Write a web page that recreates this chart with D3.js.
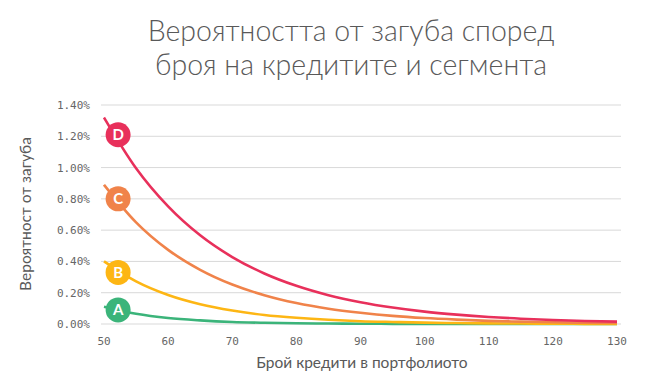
<!DOCTYPE html>
<html>
<head>
<meta charset="utf-8">
<script src="https://cdn.jsdelivr.net/npm/d3@7"></script>
<style>
  body { margin: 0; background: #fff; }
  svg text { fill: #595959; }
</style>
</head>
<body>
<svg id="chart"></svg>
<script>
// loans in portfolio
var xValues = [50, 55, 60, 65, 70, 75, 80, 85, 90, 95, 100, 105, 110, 115, 120, 125, 130];

// loss probability (%), per segment
var segA = [0.110, 0.065, 0.038, 0.023, 0.013, 0.008, 0.005, 0.003, 0.002, 0.001, 0.001, 0.001, 0.000, 0.000, 0.000, 0.000, 0.000];
var segB = [0.400, 0.272, 0.185, 0.126, 0.086, 0.058, 0.040, 0.027, 0.018, 0.013, 0.009, 0.006, 0.004, 0.003, 0.002, 0.001, 0.001];
var segC = [0.890, 0.650, 0.474, 0.346, 0.252, 0.184, 0.134, 0.098, 0.072, 0.052, 0.038, 0.028, 0.020, 0.015, 0.011, 0.008, 0.006];
var segD = [1.320, 0.996, 0.752, 0.567, 0.428, 0.323, 0.244, 0.184, 0.139, 0.105, 0.079, 0.060, 0.045, 0.034, 0.026, 0.019, 0.015];

var segNames = ["A", "B", "C", "D"];
var segColors = ["#3bb47a", "#fdb614", "#f0834a", "#e8305b"];
var markerX = 52.2;
var markerY = [0.09, 0.33, 0.80, 1.21];

var yTicks = [0, 0.2, 0.4, 0.6, 0.8, 1.0, 1.2, 1.4];
var xTicks = [50, 60, 70, 80, 90, 100, 110, 120, 130];

var width = 672, height = 384;
var svg = d3.select("#chart").attr("width", width).attr("height", height);

var x = d3.scaleLinear().domain([50, 130]).range([104, 617]);
var y = d3.scaleLinear().domain([0, 1.4]).range([324, 105]);

// title
svg.append("text")
    .attr("x", 351).attr("y", 41)
    .attr("text-anchor", "middle")
    .style("font-family", "Lato").style("font-weight", 300).style("font-size", "28.5px")
    .text("Вероятността от загуба според");
svg.append("text")
    .attr("x", 351).attr("y", 75)
    .attr("text-anchor", "middle")
    .style("font-family", "Lato").style("font-weight", 300).style("font-size", "28.5px")
    .text("броя на кредитите и сегмента");

// gridlines
svg.append("g").selectAll("line")
    .data(yTicks)
  .enter().append("line")
    .attr("x1", 101).attr("x2", 621)
    .attr("y1", function(d) { return y(d); })
    .attr("y2", function(d) { return y(d); })
    .attr("stroke", "#d9d9d9").attr("stroke-width", 1);

var fmt = d3.format(".2f");
svg.append("g").selectAll("text")
    .data(yTicks)
  .enter().append("text")
    .attr("x", 90)
    .attr("y", function(d) { return y(d) + 4; })
    .attr("text-anchor", "end")
    .style("font-family", "DejaVu Sans Mono").style("font-size", "11px")
    .style("fill", "#666")
    .text(function(d) { return fmt(d) + "%"; });

svg.append("g").selectAll("text")
    .data(xTicks)
  .enter().append("text")
    .attr("x", function(d) { return x(d); })
    .attr("y", 345)
    .attr("text-anchor", "middle")
    .style("font-family", "DejaVu Sans Mono").style("font-size", "11px")
    .style("fill", "#666")
    .text(function(d) { return d; });

// axis titles
svg.append("text")
    .attr("x", 362).attr("y", 368)
    .attr("text-anchor", "middle")
    .style("font-family", "Lato").style("font-size", "15.5px")
    .text("Брой кредити в портфолиото");
svg.append("text")
    .attr("transform", "translate(31,214) rotate(-90)")
    .attr("text-anchor", "middle")
    .style("font-family", "Lato").style("font-size", "15.5px")
    .text("Вероятност от загуба");

// curves
var series = [segA, segB, segC, segD];
var line = d3.line()
    .x(function(d, i) { return x(xValues[i]); })
    .y(function(d) { return y(d); })
    .curve(d3.curveMonotoneX);

svg.append("g").selectAll("path")
    .data(series)
  .enter().append("path")
    .attr("d", line)
    .attr("fill", "none")
    .attr("stroke", function(d, i) { return segColors[i]; })
    .attr("stroke-width", 2.6);

// labelled markers
var mk = svg.append("g").selectAll("g")
    .data(segNames)
  .enter().append("g")
    .attr("transform", function(d, i) { return "translate(" + x(markerX) + "," + y(markerY[i]) + ")"; });
mk.append("circle")
    .attr("r", 12.5)
    .attr("fill", function(d, i) { return segColors[i]; });
mk.append("text")
    .attr("y", 5.5)
    .attr("text-anchor", "middle")
    .style("font-family", "Lato").style("font-weight", 700).style("font-size", "15px")
    .style("fill", "#fff")
    .text(function(d) { return d; });
</script>
</body>
</html>
